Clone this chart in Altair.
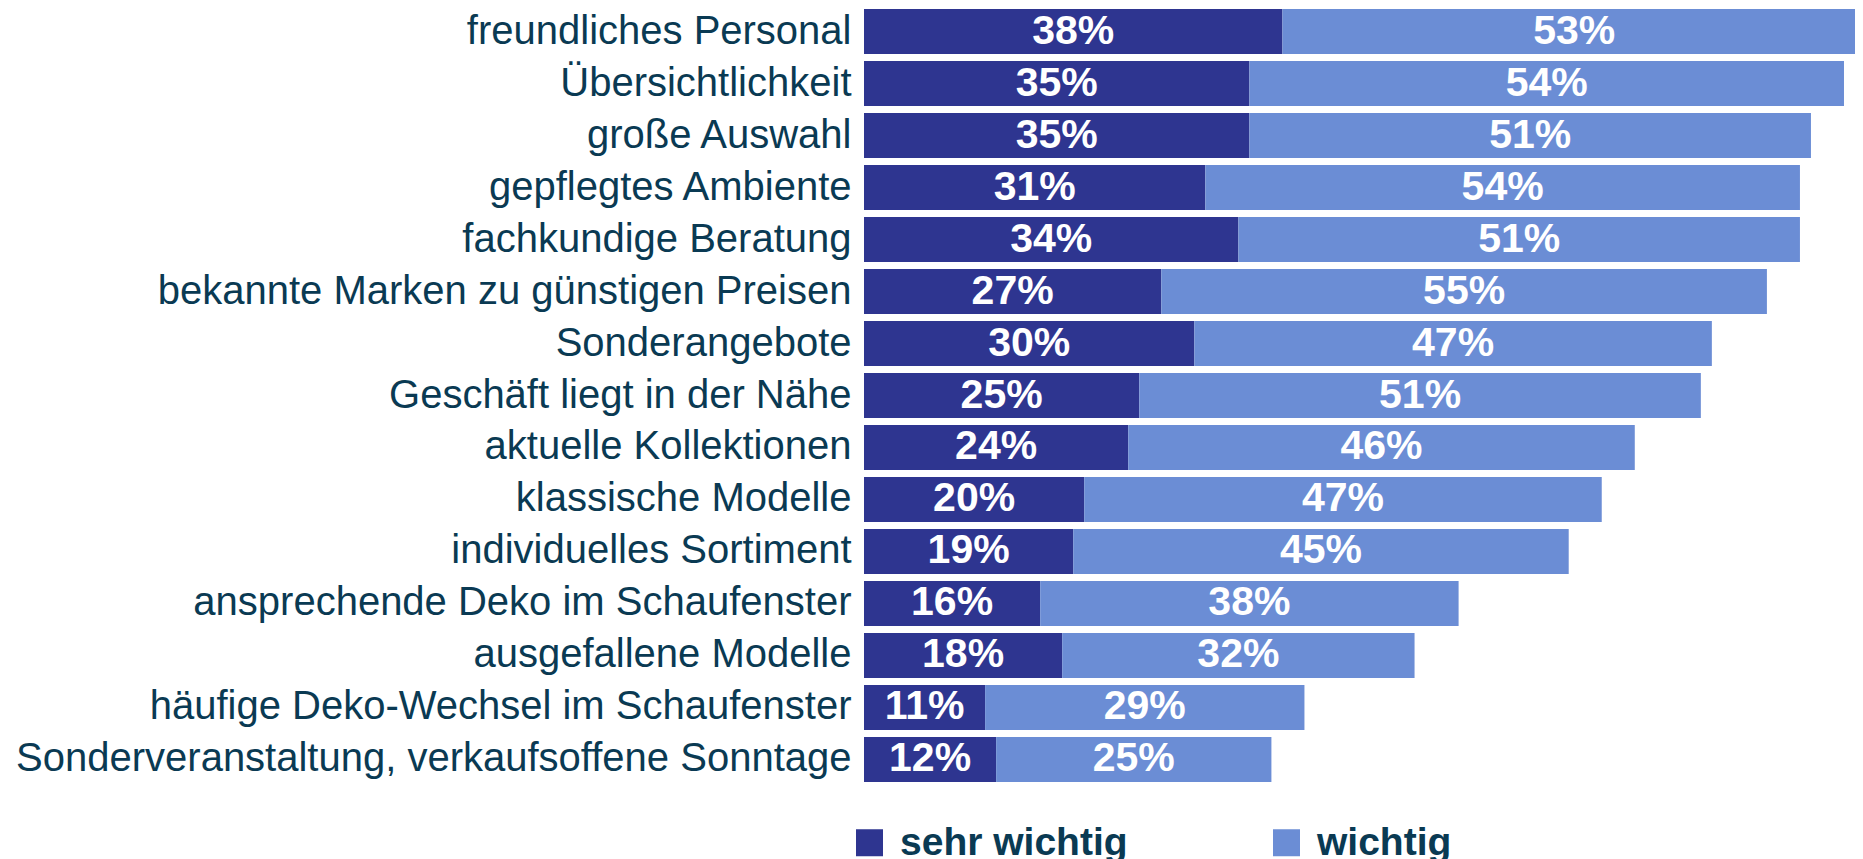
import altair as alt
import pandas as pd

categories = [
    "freundliches Personal",
    "Übersichtlichkeit",
    "große Auswahl",
    "gepflegtes Ambiente",
    "fachkundige Beratung",
    "bekannte Marken zu günstigen Preisen",
    "Sonderangebote",
    "Geschäft liegt in der Nähe",
    "aktuelle Kollektionen",
    "klassische Modelle",
    "individuelles Sortiment",
    "ansprechende Deko im Schaufenster",
    "ausgefallene Modelle",
    "häufige Deko-Wechsel im Schaufenster",
    "Sonderveranstaltung, verkaufsoffene Sonntage",
]
sehr_wichtig = [38, 35, 35, 31, 34, 27, 30, 25, 24, 20, 19, 16, 18, 11, 12]
wichtig = [53, 54, 51, 54, 51, 55, 47, 51, 46, 47, 45, 38, 32, 29, 25]
series = ["sehr wichtig", "wichtig"]
colors = ["#2E3590", "#6B8DD5"]

FONT = "Liberation Sans, Arial, Helvetica, sans-serif"
TXT = "#0A3A53"

rows = []
for c, a, b in zip(categories, sehr_wichtig, wichtig):
    rows.append({"cat": c, "serie": series[0], "start": 0, "end": a, "value": a})
    rows.append({"cat": c, "serie": series[1], "start": a, "end": a + b, "value": b})
df = pd.DataFrame(rows)
df["mid"] = (df["start"] + df["end"]) / 2
df["label"] = df["value"].astype(str) + "%"

xscale = alt.Scale(domain=[0, 90], nice=False, zero=True)
yenc = alt.Y(
    "cat:N",
    sort=categories,
    title=None,
    scale=alt.Scale(paddingInner=0.135, paddingOuter=0.02),
    axis=alt.Axis(
        labelFontSize=40,
        labelFont=FONT,
        labelColor=TXT,
        domain=False,
        ticks=False,
        labelPadding=13,
        labelLimit=1000,
    ),
)

bars = alt.Chart(df).mark_bar(clip=True).encode(
    y=yenc,
    x=alt.X("start:Q", scale=xscale, axis=None),
    x2="end:Q",
    color=alt.Color(
        "serie:N",
        scale=alt.Scale(domain=series, range=colors),
        legend=alt.Legend(
            title=None,
            orient="none",
            legendX=-14,
            legendY=815,
            direction="horizontal",
            symbolType="square",
            symbolSize=729,
            symbolStrokeWidth=0,
            labelFontSize=39,
            labelFont=FONT,
            labelFontWeight="bold",
            labelColor=TXT,
            labelOffset=11,
            columnPadding=139,
            labelLimit=600,
            padding=0,
        ),
    ),
)

text = alt.Chart(df).mark_text(
    font=FONT, fontSize=41, fontWeight="bold", color="white", clip=True
).encode(
    y=yenc,
    x=alt.X("mid:Q", scale=xscale, axis=None),
    text="label:N",
)

chart = (
    (bars + text)
    .properties(
        width=991,
        height=775,
        autosize=alt.AutoSizeParams(type="none"),
        padding={"left": 856, "top": 0, "right": 0, "bottom": 80},
    )
    .configure_view(stroke=None)
)

chart.save("out.html", embed_options={"renderer": "svg", "actions": False})
